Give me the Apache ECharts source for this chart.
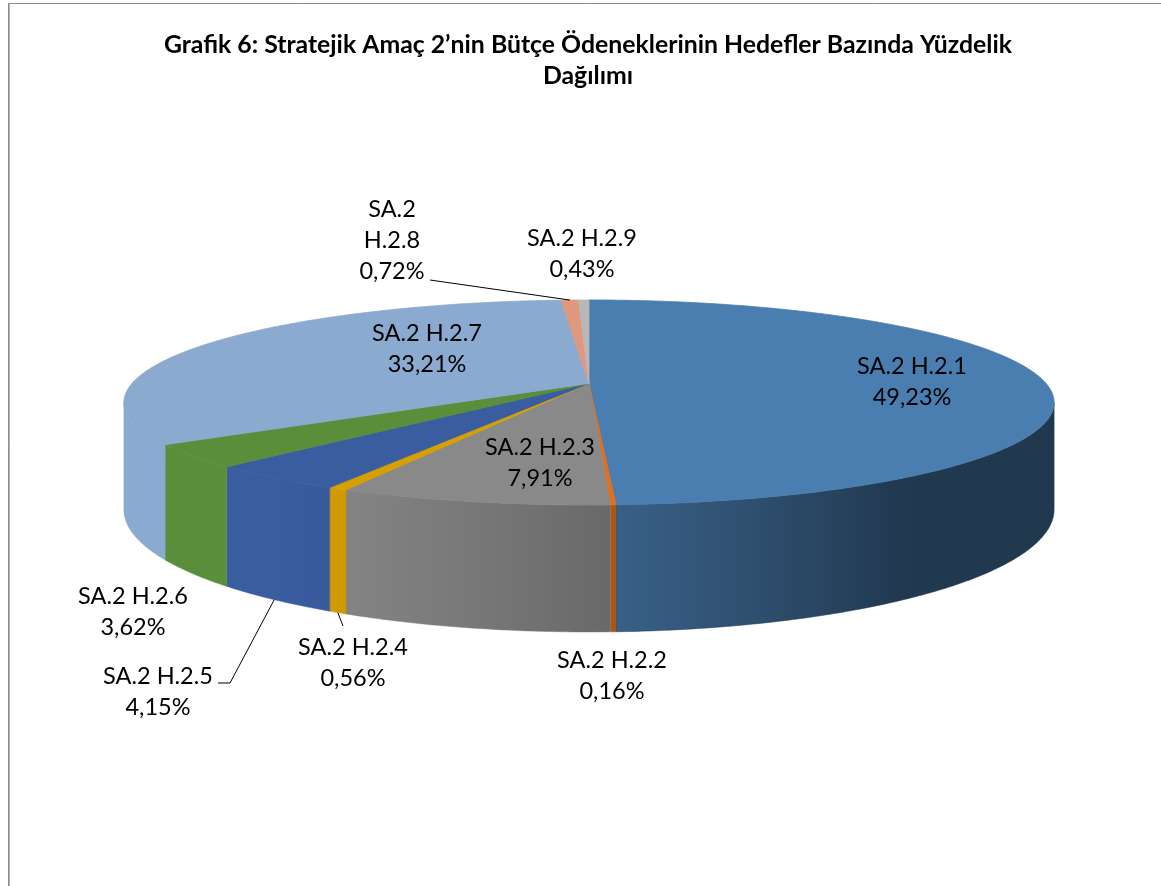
<!DOCTYPE html>
<html>
<head>
<meta charset="utf-8">
<script src="https://cdn.jsdelivr.net/npm/echarts@6/dist/echarts.min.js"></script>
<style>
  html, body { margin: 0; background: #fff; }
  #chart { width: 1161px; height: 886px; }
</style>
</head>
<body>
<div id="chart"></div>
<script>
// --- data ---
const categories = ['SA.2 H.2.1', 'SA.2 H.2.2', 'SA.2 H.2.3', 'SA.2 H.2.4', 'SA.2 H.2.5',
  'SA.2 H.2.6', 'SA.2 H.2.7', 'SA.2 H.2.8', 'SA.2 H.2.9']
const shares = [49.23, 0.16, 7.91, 0.56, 4.15, 3.62, 33.21, 0.72, 0.43]

const sliceColors = ['#4A7EB0', '#E0701E', '#898989', '#D6A000', '#3A5DA0',
  '#5A8E3A', '#8BAACF', '#E09880', '#B8B8B8']

// label placement (text centre, optional leader start)
const labelLayout = [
  { x: 912, y: 382 },
  { x: 612, y: 676 },
  { x: 540, y: 463 },
  { x: 353, y: 663, leader: [[343, 626]], end: 'bottom' },
  { x: 158, y: 692, leader: [[218, 683], [230, 683]], end: 'bottom' },
  { x: 133, y: 612 },
  { x: 427, y: 349 },
  { x: 392, y: 240, wrap: true, leader: [[430, 280]], end: 'top' },
  { x: 582, y: 254 }
]

// pie geometry (3D look with perspective)
const CX = 589, CY = 383.4, RX = 457, RY = 98.95, PERSP = 0.186, DEPTH = 103.4
const STEP = Math.PI / 360
const WALL_FROM = Math.acos(-PERSP), WALL_TO = 2 * Math.PI - Math.acos(-PERSP)

const total = shares.reduce((a, b) => a + b, 0)
const starts = []
shares.reduce((acc, v) => { starts.push(acc); return acc + v }, 0)

function proj(t, drop) {
  const s = Math.sin(t), c = Math.cos(t)
  const w = 1 + PERSP * c
  return [CX + RX * s / w, CY - RY * c / w + (drop ? DEPTH / w : 0)]
}

function shade(hex, f) {
  const n = parseInt(hex.slice(1), 16)
  const r = Math.round(((n >> 16) & 255) * f)
  const g = Math.round(((n >> 8) & 255) * f)
  const b = Math.round((n & 255) * f)
  return 'rgb(' + r + ',' + g + ',' + b + ')'
}

function light(t) {
  const c = Math.cos(t - 235 * Math.PI / 180)
  return Math.min(1, 0.45 + 0.58 * Math.max(0, c))
}

function pctText(v) {
  return v.toFixed(2).replace('.', ',') + '%'
}

function renderItem(params, api) {
  const i = params.dataIndex
  const v = api.value(0)
  const a0 = starts[i] / total * 2 * Math.PI
  const a1 = a0 + v / total * 2 * Math.PI
  const color = sliceColors[i]
  const children = []

  // outer wall, front half only, shaded with a horizontal gradient
  const lo = Math.max(a0, WALL_FROM), hi = Math.min(a1, WALL_TO)
  if (hi > lo) {
    const n = Math.max(1, Math.ceil((hi - lo) / STEP))
    const top = [], bottom = []
    for (let k = 0; k <= n; k++) {
      const t = lo + (hi - lo) * k / n
      top.push(proj(t))
      bottom.push(proj(t, true))
    }
    const xs = top[0][0], xe = top[n][0]
    const stops = []
    const ns = Math.min(n, 24)
    for (let k = 0; k <= ns; k++) {
      const t = lo + (hi - lo) * k / ns
      let off = xe === xs ? 0 : (proj(t)[0] - xs) / (xe - xs)
      stops.push({ offset: Math.min(1, Math.max(0, off)), color: shade(color, light(t)) })
    }
    children.push({
      type: 'polygon', z2: 1,
      shape: { points: top.concat(bottom.reverse()) },
      style: {
        fill: { type: 'linear', x: xs, y: 0, x2: xe === xs ? xs + 1 : xe, y2: 0, global: true, colorStops: stops },
        stroke: shade(color, light((lo + hi) / 2)), lineWidth: 0.5
      }
    })
  }

  // top face
  const pts = [[CX, CY]]
  const m = Math.max(1, Math.ceil((a1 - a0) / STEP))
  for (let k = 0; k <= m; k++) pts.push(proj(a0 + (a1 - a0) * k / m))
  children.push({
    type: 'polygon', z2: 10,
    shape: { points: pts },
    style: { fill: color, stroke: color, lineWidth: 0.8 }
  })

  // label + leader
  const lay = labelLayout[i]
  const name = categories[i]
  const text = (lay.wrap ? name.replace(' ', '\n') : name) + '\n' + pctText(v)
  children.push({
    type: 'text', z2: 30,
    style: {
      text: text, x: lay.x, y: lay.y,
      align: 'center', verticalAlign: 'middle',
      textAlign: 'center', textVerticalAlign: 'middle',
      font: '23.5px Lato', lineHeight: 31, fill: '#000'
    }
  })
  if (lay.leader) {
    const tm = (a0 + a1) / 2
    const anchor = proj(tm, lay.end === 'bottom')
    children.push({
      type: 'polyline', z2: 20,
      shape: { points: lay.leader.concat([anchor]) },
      style: { stroke: '#000', lineWidth: 1, fill: null }
    })
  }
  return { type: 'group', children: children }
}

const chart = echarts.init(document.getElementById('chart'))
chart.setOption({
  animation: false,
  graphic: [
    {
      type: 'rect', silent: true,
      shape: { x: 8.5, y: 3.5, width: 1300, height: 1000 },
      style: { fill: null, stroke: '#8c8c8c', lineWidth: 1 }
    },
    {
      type: 'line', silent: true,
      shape: { x1: 9.5, y1: 4, x2: 9.5, y2: 886 },
      style: { stroke: '#b4b4b4', lineWidth: 1 }
    },
    {
      type: 'text', silent: true,
      style: {
        text: 'Grafik 6: Stratejik Amaç 2’nin Bütçe Ödeneklerinin Hedefler Bazında Yüzdelik\nDağılımı',
        x: 588, y: 61,
        align: 'center', verticalAlign: 'middle',
        textAlign: 'center', textVerticalAlign: 'middle',
        font: 'bold 24.8px Lato', lineHeight: 31, fill: '#000'
      }
    }
  ],
  series: [{
    type: 'custom',
    coordinateSystem: 'none',
    renderItem: renderItem,
    data: shares.map(v => [v])
  }]
})
</script>
</body>
</html>
